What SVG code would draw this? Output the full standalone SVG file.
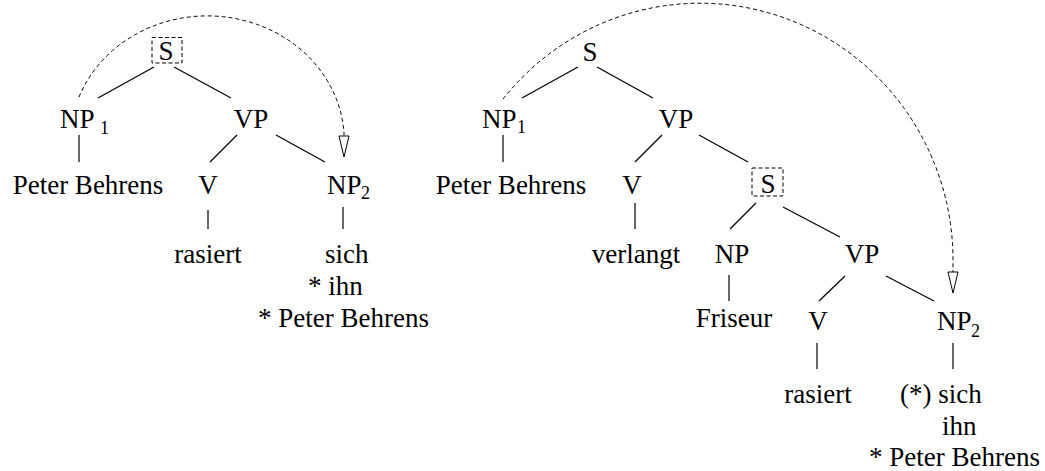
<svg xmlns="http://www.w3.org/2000/svg" width="1045" height="471" viewBox="0 0 1045 471">
  <style>
    .t { font-family: "Liberation Serif", "Times New Roman", serif; font-size: 27px; fill: #000; }
    .m { text-anchor: middle; }
    .sub { font-size: 18px; }
    .edge { stroke: #000; stroke-width: 1.2; fill: none; stroke-linecap: butt; }
    .bind { stroke: #000; stroke-width: 1; fill: none; stroke-dasharray: 4 3; }
    .box { stroke: #000; stroke-width: 1; fill: none; stroke-dasharray: 4 2.5; }
  </style>
  <defs>
    <marker id="hollow" markerUnits="userSpaceOnUse" markerWidth="24" markerHeight="14" refX="0" refY="5" orient="auto" overflow="visible">
      <path d="M0,0 L21,5 L0,10 Z" fill="#fff" stroke="#000" stroke-width="1"/>
    </marker>
  </defs>
  <rect width="1045" height="471" fill="#fff"/>

  <!-- tree edges and binding arcs -->
  <g id="connectors">
    <!-- left tree -->
    <line class="edge" x1="154" y1="67" x2="98" y2="98"/>
    <line class="edge" x1="174" y1="67" x2="231" y2="98"/>
    <line class="edge" x1="79" y1="135" x2="79" y2="162"/>
    <line class="edge" x1="237" y1="135" x2="210" y2="162"/>
    <line class="edge" x1="276" y1="135" x2="325" y2="162"/>
    <line class="edge" x1="208" y1="210" x2="208" y2="229"/>
    <line class="edge" x1="343" y1="207" x2="343" y2="229"/>
    <path class="bind" d="M79,97 A137,125 0 0 1 344,133 L344,136" marker-end="url(#hollow)"/>
    <!-- right tree -->
    <line class="edge" x1="578" y1="67" x2="522" y2="98"/>
    <line class="edge" x1="597" y1="67" x2="653" y2="98"/>
    <line class="edge" x1="503" y1="135" x2="503" y2="162"/>
    <line class="edge" x1="662" y1="135" x2="635" y2="162"/>
    <line class="edge" x1="699" y1="135" x2="748" y2="162"/>
    <line class="edge" x1="635" y1="203" x2="635" y2="229"/>
    <line class="edge" x1="756" y1="203" x2="730" y2="229"/>
    <line class="edge" x1="783" y1="207" x2="840" y2="237"/>
    <line class="edge" x1="729" y1="275" x2="729" y2="301"/>
    <line class="edge" x1="845" y1="276" x2="819" y2="301"/>
    <line class="edge" x1="886" y1="276" x2="934" y2="301"/>
    <line class="edge" x1="817" y1="343" x2="817" y2="369"/>
    <line class="edge" x1="953" y1="343" x2="953" y2="369"/>
    <path class="bind" d="M503,99 A253,257 0 0 1 953,264 L953,272" marker-end="url(#hollow)"/>
  </g>

  <!-- left tree nodes -->
  <g id="l-s">
    <rect class="box" x="152" y="37.5" width="30" height="25.5"/>
    <text class="t m" x="166" y="60">S</text>
  </g>
  <g id="l-np1">
    <text class="t" x="60" y="128">NP</text>
    <text class="t sub" x="100" y="134">1</text>
  </g>
  <g id="l-vp"><text class="t m" x="251" y="128">VP</text></g>
  <g id="l-pb"><text class="t m" x="88" y="194">Peter Behrens</text></g>
  <g id="l-v"><text class="t m" x="208" y="194">V</text></g>
  <g id="l-np2">
    <text class="t" x="327" y="194">NP</text>
    <text class="t sub" x="361" y="199">2</text>
  </g>
  <g id="l-rasiert"><text class="t m" x="208" y="263">rasiert</text></g>
  <g id="l-forms">
    <text class="t" x="325" y="263">sich</text>
    <text class="t" x="308" y="295">* ihn</text>
    <text class="t" x="258" y="327">* Peter Behrens</text>
  </g>

  <!-- right tree nodes -->
  <g id="r-s"><text class="t m" x="590" y="61">S</text></g>
  <g id="r-np1">
    <text class="t" x="482" y="128">NP</text>
    <text class="t sub" x="517" y="133">1</text>
  </g>
  <g id="r-vp"><text class="t m" x="676" y="128">VP</text></g>
  <g id="r-pb"><text class="t m" x="511" y="194">Peter Behrens</text></g>
  <g id="r-v"><text class="t m" x="632" y="194">V</text></g>
  <g id="r-s2">
    <rect class="box" x="752" y="168" width="31" height="28"/>
    <text class="t m" x="768" y="193">S</text>
  </g>
  <g id="r-verlangt"><text class="t m" x="636" y="263">verlangt</text></g>
  <g id="r-np"><text class="t m" x="732" y="263">NP</text></g>
  <g id="r-vp2"><text class="t m" x="862" y="263">VP</text></g>
  <g id="r-friseur"><text class="t m" x="734" y="327">Friseur</text></g>
  <g id="r-v2"><text class="t m" x="818" y="330">V</text></g>
  <g id="r-np2">
    <text class="t" x="937" y="330">NP</text>
    <text class="t sub" x="971" y="337">2</text>
  </g>
  <g id="r-rasiert"><text class="t m" x="818" y="403">rasiert</text></g>
  <g id="r-forms">
    <text class="t" x="900" y="403">(*) sich</text>
    <text class="t" x="942" y="435">ihn</text>
    <text class="t" x="869" y="466">* Peter Behrens</text>
  </g>
</svg>
